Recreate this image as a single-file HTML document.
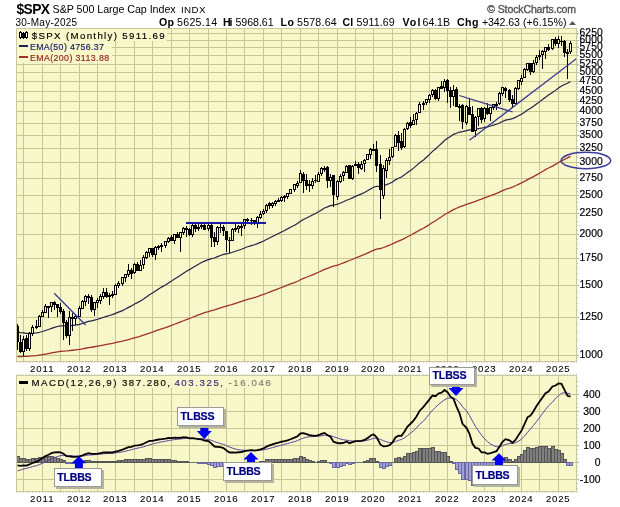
<!DOCTYPE html><html><head><meta charset="utf-8"><style>
html,body{margin:0;padding:0;background:#fff;}
body{width:620px;height:507px;overflow:hidden;position:relative;}
svg{position:absolute;left:0;top:0;}
text{font-family:"Liberation Sans",Arial,sans-serif;}
.v{font-family:"DejaVu Sans","Liberation Sans",sans-serif;}
</style></head><body>
<svg width="620" height="507" viewBox="0 0 620 507">
<text x="16.46" y="14" font-size="13.8" textLength="33.54" lengthAdjust="spacing" font-weight="bold" fill="#000">$SPX</text>
<text x="52.62" y="13" font-size="10.7" textLength="123.04" lengthAdjust="spacing" fill="#000">S&amp;P 500 Large Cap Index</text>
<text x="181.00" y="13" font-size="9.8" textLength="24.46" lengthAdjust="spacing" fill="#000">INDX</text>
<text x="487.26" y="13" font-size="10.5" textLength="88.82" lengthAdjust="spacing" font-family='"DejaVu Sans",sans-serif' fill="#555555" stroke="#555555" stroke-width="0.35">&#169; StockCharts.com</text>
<text x="15.46" y="26" font-size="10.0" textLength="61.66" lengthAdjust="spacing" fill="#000">30-May-2025</text>
<text x="159.08" y="26" font-size="10.6" textLength="14.96" lengthAdjust="spacing" font-weight="bold" fill="#000">Op</text>
<text x="177.08" y="26" font-size="10.6" textLength="39.96" lengthAdjust="spacing" fill="#000">5625.14</text>
<text x="222.92" y="26" font-size="10.6" textLength="9.62" lengthAdjust="spacing" font-weight="bold" fill="#000">Hi</text>
<text x="235.46" y="26" font-size="10.6" textLength="38.08" lengthAdjust="spacing" fill="#000">5968.61</text>
<text x="280.50" y="26" font-size="10.6" textLength="13.58" lengthAdjust="spacing" font-weight="bold" fill="#000">Lo</text>
<text x="297.04" y="26" font-size="10.6" textLength="39.62" lengthAdjust="spacing" fill="#000">5578.64</text>
<text x="342.54" y="26" font-size="10.6" textLength="10.54" lengthAdjust="spacing" font-weight="bold" fill="#000">Cl</text>
<text x="356.46" y="26" font-size="10.6" textLength="38.20" lengthAdjust="spacing" fill="#000">5911.69</text>
<text x="402.42" y="26" font-size="10.6" textLength="17.96" lengthAdjust="spacing" font-weight="bold" fill="#000">Vol</text>
<text x="422.54" y="26" font-size="10.6" textLength="27.50" lengthAdjust="spacing" fill="#000">64.1B</text>
<text x="456.96" y="26" font-size="10.6" textLength="21.58" lengthAdjust="spacing" font-weight="bold" fill="#000">Chg</text>
<text x="481.92" y="26" font-size="10.6" textLength="38.08" lengthAdjust="spacing" fill="#000">+342.63</text>
<text x="523.04" y="26" font-size="10.6" textLength="43.46" lengthAdjust="spacing" fill="#000">(+6.15%)</text>
<polygon points="569,25 572.5,21 576,25" fill="#4a5e4a"/>
<rect x="16" y="28" width="561" height="334" fill="#f8f7c9"/>
<rect x="16" y="375" width="561" height="117" fill="#f8f7c9"/>
<path d="M23.5 29V361M23.5 376V491M42.5 29V361M42.5 376V491M60.5 29V361M60.5 376V491M79.5 29V361M79.5 376V491M97.5 29V361M97.5 376V491M115.5 29V361M115.5 376V491M134.5 29V361M134.5 376V491M152.5 29V361M152.5 376V491M171.5 29V361M171.5 376V491M189.5 29V361M189.5 376V491M208.5 29V361M208.5 376V491M226.5 29V361M226.5 376V491M244.5 29V361M244.5 376V491M263.5 29V361M263.5 376V491M281.5 29V361M281.5 376V491M300.5 29V361M300.5 376V491M318.5 29V361M318.5 376V491M337.5 29V361M337.5 376V491M355.5 29V361M355.5 376V491M373.5 29V361M373.5 376V491M392.5 29V361M392.5 376V491M410.5 29V361M410.5 376V491M429.5 29V361M429.5 376V491M447.5 29V361M447.5 376V491M466.5 29V361M466.5 376V491M484.5 29V361M484.5 376V491M502.5 29V361M502.5 376V491M521.5 29V361M521.5 376V491M539.5 29V361M539.5 376V491M558.5 29V361M558.5 376V491M17 355.5H576M17 317.5H576M17 285.5H576M17 258.5H576M17 234.5H576M17 213.5H576M17 195.5H576M17 178.5H576M17 162.5H576M17 148.5H576M17 135.5H576M17 123.5H576M17 111.5H576M17 101.5H576M17 91.5H576M17 81.5H576M17 72.5H576M17 64.5H576M17 55.5H576M17 47.5H576M17 40.5H576M17 33.5H576M17 394.5H576M17 411.5H576M17 428.5H576M17 445.5H576M17 462.5H576M17 479.5H576" stroke="#c6c594" stroke-width="1" fill="none" shape-rendering="crispEdges"/>
<rect x="16.5" y="28.5" width="560" height="333" fill="none" stroke="#c9c8a0" shape-rendering="crispEdges"/>
<rect x="16.5" y="375.5" width="560" height="116" fill="none" stroke="#c9c8a0" shape-rendering="crispEdges"/>
<rect x="17" y="29" width="150" height="12" fill="#f8f7c9"/>
<rect x="17" y="41" width="95" height="22" fill="#f8f7c9"/>
<rect x="17" y="376" width="256" height="12" fill="#f8f7c9"/>
<path d="M17 362h1v1h-1zM17 374h1v1h-1zM17 492h1v1h-1zM20 362h1v1h-1zM20 374h1v1h-1zM20 492h1v1h-1zM23 362h1v1h-1zM23 374h1v1h-1zM23 492h1v1h-1zM26 362h1v1h-1zM26 374h1v1h-1zM26 492h1v1h-1zM29 362h1v1h-1zM29 374h1v1h-1zM29 492h1v1h-1zM32 362h1v1h-1zM32 374h1v1h-1zM32 492h1v1h-1zM36 362h1v1h-1zM36 374h1v1h-1zM36 492h1v1h-1zM39 362h1v1h-1zM39 374h1v1h-1zM39 492h1v1h-1zM42 362h1v1h-1zM42 374h1v1h-1zM42 492h1v1h-1zM45 362h1v1h-1zM45 374h1v1h-1zM45 492h1v1h-1zM48 362h1v1h-1zM48 374h1v1h-1zM48 492h1v1h-1zM51 362h1v1h-1zM51 374h1v1h-1zM51 492h1v1h-1zM54 362h1v1h-1zM54 374h1v1h-1zM54 492h1v1h-1zM57 362h1v1h-1zM57 374h1v1h-1zM57 492h1v1h-1zM60 362h1v1h-1zM60 374h1v1h-1zM60 492h1v1h-1zM63 362h1v1h-1zM63 374h1v1h-1zM63 492h1v1h-1zM66 362h1v1h-1zM66 374h1v1h-1zM66 492h1v1h-1zM69 362h1v1h-1zM69 374h1v1h-1zM69 492h1v1h-1zM72 362h1v1h-1zM72 374h1v1h-1zM72 492h1v1h-1zM75 362h1v1h-1zM75 374h1v1h-1zM75 492h1v1h-1zM79 362h1v1h-1zM79 374h1v1h-1zM79 492h1v1h-1zM82 362h1v1h-1zM82 374h1v1h-1zM82 492h1v1h-1zM85 362h1v1h-1zM85 374h1v1h-1zM85 492h1v1h-1zM88 362h1v1h-1zM88 374h1v1h-1zM88 492h1v1h-1zM91 362h1v1h-1zM91 374h1v1h-1zM91 492h1v1h-1zM94 362h1v1h-1zM94 374h1v1h-1zM94 492h1v1h-1zM97 362h1v1h-1zM97 374h1v1h-1zM97 492h1v1h-1zM100 362h1v1h-1zM100 374h1v1h-1zM100 492h1v1h-1zM103 362h1v1h-1zM103 374h1v1h-1zM103 492h1v1h-1zM106 362h1v1h-1zM106 374h1v1h-1zM106 492h1v1h-1zM109 362h1v1h-1zM109 374h1v1h-1zM109 492h1v1h-1zM112 362h1v1h-1zM112 374h1v1h-1zM112 492h1v1h-1zM115 362h1v1h-1zM115 374h1v1h-1zM115 492h1v1h-1zM118 362h1v1h-1zM118 374h1v1h-1zM118 492h1v1h-1zM122 362h1v1h-1zM122 374h1v1h-1zM122 492h1v1h-1zM125 362h1v1h-1zM125 374h1v1h-1zM125 492h1v1h-1zM128 362h1v1h-1zM128 374h1v1h-1zM128 492h1v1h-1zM131 362h1v1h-1zM131 374h1v1h-1zM131 492h1v1h-1zM134 362h1v1h-1zM134 374h1v1h-1zM134 492h1v1h-1zM137 362h1v1h-1zM137 374h1v1h-1zM137 492h1v1h-1zM140 362h1v1h-1zM140 374h1v1h-1zM140 492h1v1h-1zM143 362h1v1h-1zM143 374h1v1h-1zM143 492h1v1h-1zM146 362h1v1h-1zM146 374h1v1h-1zM146 492h1v1h-1zM149 362h1v1h-1zM149 374h1v1h-1zM149 492h1v1h-1zM152 362h1v1h-1zM152 374h1v1h-1zM152 492h1v1h-1zM155 362h1v1h-1zM155 374h1v1h-1zM155 492h1v1h-1zM158 362h1v1h-1zM158 374h1v1h-1zM158 492h1v1h-1zM161 362h1v1h-1zM161 374h1v1h-1zM161 492h1v1h-1zM165 362h1v1h-1zM165 374h1v1h-1zM165 492h1v1h-1zM168 362h1v1h-1zM168 374h1v1h-1zM168 492h1v1h-1zM171 362h1v1h-1zM171 374h1v1h-1zM171 492h1v1h-1zM174 362h1v1h-1zM174 374h1v1h-1zM174 492h1v1h-1zM177 362h1v1h-1zM177 374h1v1h-1zM177 492h1v1h-1zM180 362h1v1h-1zM180 374h1v1h-1zM180 492h1v1h-1zM183 362h1v1h-1zM183 374h1v1h-1zM183 492h1v1h-1zM186 362h1v1h-1zM186 374h1v1h-1zM186 492h1v1h-1zM189 362h1v1h-1zM189 374h1v1h-1zM189 492h1v1h-1zM192 362h1v1h-1zM192 374h1v1h-1zM192 492h1v1h-1zM195 362h1v1h-1zM195 374h1v1h-1zM195 492h1v1h-1zM198 362h1v1h-1zM198 374h1v1h-1zM198 492h1v1h-1zM201 362h1v1h-1zM201 374h1v1h-1zM201 492h1v1h-1zM204 362h1v1h-1zM204 374h1v1h-1zM204 492h1v1h-1zM208 362h1v1h-1zM208 374h1v1h-1zM208 492h1v1h-1zM211 362h1v1h-1zM211 374h1v1h-1zM211 492h1v1h-1zM214 362h1v1h-1zM214 374h1v1h-1zM214 492h1v1h-1zM217 362h1v1h-1zM217 374h1v1h-1zM217 492h1v1h-1zM220 362h1v1h-1zM220 374h1v1h-1zM220 492h1v1h-1zM223 362h1v1h-1zM223 374h1v1h-1zM223 492h1v1h-1zM226 362h1v1h-1zM226 374h1v1h-1zM226 492h1v1h-1zM229 362h1v1h-1zM229 374h1v1h-1zM229 492h1v1h-1zM232 362h1v1h-1zM232 374h1v1h-1zM232 492h1v1h-1zM235 362h1v1h-1zM235 374h1v1h-1zM235 492h1v1h-1zM238 362h1v1h-1zM238 374h1v1h-1zM238 492h1v1h-1zM241 362h1v1h-1zM241 374h1v1h-1zM241 492h1v1h-1zM244 362h1v1h-1zM244 374h1v1h-1zM244 492h1v1h-1zM247 362h1v1h-1zM247 374h1v1h-1zM247 492h1v1h-1zM251 362h1v1h-1zM251 374h1v1h-1zM251 492h1v1h-1zM254 362h1v1h-1zM254 374h1v1h-1zM254 492h1v1h-1zM257 362h1v1h-1zM257 374h1v1h-1zM257 492h1v1h-1zM260 362h1v1h-1zM260 374h1v1h-1zM260 492h1v1h-1zM263 362h1v1h-1zM263 374h1v1h-1zM263 492h1v1h-1zM266 362h1v1h-1zM266 374h1v1h-1zM266 492h1v1h-1zM269 362h1v1h-1zM269 374h1v1h-1zM269 492h1v1h-1zM272 362h1v1h-1zM272 374h1v1h-1zM272 492h1v1h-1zM275 362h1v1h-1zM275 374h1v1h-1zM275 492h1v1h-1zM278 362h1v1h-1zM278 374h1v1h-1zM278 492h1v1h-1zM281 362h1v1h-1zM281 374h1v1h-1zM281 492h1v1h-1zM284 362h1v1h-1zM284 374h1v1h-1zM284 492h1v1h-1zM287 362h1v1h-1zM287 374h1v1h-1zM287 492h1v1h-1zM290 362h1v1h-1zM290 374h1v1h-1zM290 492h1v1h-1zM294 362h1v1h-1zM294 374h1v1h-1zM294 492h1v1h-1zM297 362h1v1h-1zM297 374h1v1h-1zM297 492h1v1h-1zM300 362h1v1h-1zM300 374h1v1h-1zM300 492h1v1h-1zM303 362h1v1h-1zM303 374h1v1h-1zM303 492h1v1h-1zM306 362h1v1h-1zM306 374h1v1h-1zM306 492h1v1h-1zM309 362h1v1h-1zM309 374h1v1h-1zM309 492h1v1h-1zM312 362h1v1h-1zM312 374h1v1h-1zM312 492h1v1h-1zM315 362h1v1h-1zM315 374h1v1h-1zM315 492h1v1h-1zM318 362h1v1h-1zM318 374h1v1h-1zM318 492h1v1h-1zM321 362h1v1h-1zM321 374h1v1h-1zM321 492h1v1h-1zM324 362h1v1h-1zM324 374h1v1h-1zM324 492h1v1h-1zM327 362h1v1h-1zM327 374h1v1h-1zM327 492h1v1h-1zM330 362h1v1h-1zM330 374h1v1h-1zM330 492h1v1h-1zM333 362h1v1h-1zM333 374h1v1h-1zM333 492h1v1h-1zM337 362h1v1h-1zM337 374h1v1h-1zM337 492h1v1h-1zM340 362h1v1h-1zM340 374h1v1h-1zM340 492h1v1h-1zM343 362h1v1h-1zM343 374h1v1h-1zM343 492h1v1h-1zM346 362h1v1h-1zM346 374h1v1h-1zM346 492h1v1h-1zM349 362h1v1h-1zM349 374h1v1h-1zM349 492h1v1h-1zM352 362h1v1h-1zM352 374h1v1h-1zM352 492h1v1h-1zM355 362h1v1h-1zM355 374h1v1h-1zM355 492h1v1h-1zM358 362h1v1h-1zM358 374h1v1h-1zM358 492h1v1h-1zM361 362h1v1h-1zM361 374h1v1h-1zM361 492h1v1h-1zM364 362h1v1h-1zM364 374h1v1h-1zM364 492h1v1h-1zM367 362h1v1h-1zM367 374h1v1h-1zM367 492h1v1h-1zM370 362h1v1h-1zM370 374h1v1h-1zM370 492h1v1h-1zM373 362h1v1h-1zM373 374h1v1h-1zM373 492h1v1h-1zM376 362h1v1h-1zM376 374h1v1h-1zM376 492h1v1h-1zM380 362h1v1h-1zM380 374h1v1h-1zM380 492h1v1h-1zM383 362h1v1h-1zM383 374h1v1h-1zM383 492h1v1h-1zM386 362h1v1h-1zM386 374h1v1h-1zM386 492h1v1h-1zM389 362h1v1h-1zM389 374h1v1h-1zM389 492h1v1h-1zM392 362h1v1h-1zM392 374h1v1h-1zM392 492h1v1h-1zM395 362h1v1h-1zM395 374h1v1h-1zM395 492h1v1h-1zM398 362h1v1h-1zM398 374h1v1h-1zM398 492h1v1h-1zM401 362h1v1h-1zM401 374h1v1h-1zM401 492h1v1h-1zM404 362h1v1h-1zM404 374h1v1h-1zM404 492h1v1h-1zM407 362h1v1h-1zM407 374h1v1h-1zM407 492h1v1h-1zM410 362h1v1h-1zM410 374h1v1h-1zM410 492h1v1h-1zM413 362h1v1h-1zM413 374h1v1h-1zM413 492h1v1h-1zM416 362h1v1h-1zM416 374h1v1h-1zM416 492h1v1h-1zM419 362h1v1h-1zM419 374h1v1h-1zM419 492h1v1h-1zM423 362h1v1h-1zM423 374h1v1h-1zM423 492h1v1h-1zM426 362h1v1h-1zM426 374h1v1h-1zM426 492h1v1h-1zM429 362h1v1h-1zM429 374h1v1h-1zM429 492h1v1h-1zM432 362h1v1h-1zM432 374h1v1h-1zM432 492h1v1h-1zM435 362h1v1h-1zM435 374h1v1h-1zM435 492h1v1h-1zM438 362h1v1h-1zM438 374h1v1h-1zM438 492h1v1h-1zM441 362h1v1h-1zM441 374h1v1h-1zM441 492h1v1h-1zM444 362h1v1h-1zM444 374h1v1h-1zM444 492h1v1h-1zM447 362h1v1h-1zM447 374h1v1h-1zM447 492h1v1h-1zM450 362h1v1h-1zM450 374h1v1h-1zM450 492h1v1h-1zM453 362h1v1h-1zM453 374h1v1h-1zM453 492h1v1h-1zM456 362h1v1h-1zM456 374h1v1h-1zM456 492h1v1h-1zM459 362h1v1h-1zM459 374h1v1h-1zM459 492h1v1h-1zM462 362h1v1h-1zM462 374h1v1h-1zM462 492h1v1h-1zM466 362h1v1h-1zM466 374h1v1h-1zM466 492h1v1h-1zM469 362h1v1h-1zM469 374h1v1h-1zM469 492h1v1h-1zM472 362h1v1h-1zM472 374h1v1h-1zM472 492h1v1h-1zM475 362h1v1h-1zM475 374h1v1h-1zM475 492h1v1h-1zM478 362h1v1h-1zM478 374h1v1h-1zM478 492h1v1h-1zM481 362h1v1h-1zM481 374h1v1h-1zM481 492h1v1h-1zM484 362h1v1h-1zM484 374h1v1h-1zM484 492h1v1h-1zM487 362h1v1h-1zM487 374h1v1h-1zM487 492h1v1h-1zM490 362h1v1h-1zM490 374h1v1h-1zM490 492h1v1h-1zM493 362h1v1h-1zM493 374h1v1h-1zM493 492h1v1h-1zM496 362h1v1h-1zM496 374h1v1h-1zM496 492h1v1h-1zM499 362h1v1h-1zM499 374h1v1h-1zM499 492h1v1h-1zM502 362h1v1h-1zM502 374h1v1h-1zM502 492h1v1h-1zM505 362h1v1h-1zM505 374h1v1h-1zM505 492h1v1h-1zM509 362h1v1h-1zM509 374h1v1h-1zM509 492h1v1h-1zM512 362h1v1h-1zM512 374h1v1h-1zM512 492h1v1h-1zM515 362h1v1h-1zM515 374h1v1h-1zM515 492h1v1h-1zM518 362h1v1h-1zM518 374h1v1h-1zM518 492h1v1h-1zM521 362h1v1h-1zM521 374h1v1h-1zM521 492h1v1h-1zM524 362h1v1h-1zM524 374h1v1h-1zM524 492h1v1h-1zM527 362h1v1h-1zM527 374h1v1h-1zM527 492h1v1h-1zM530 362h1v1h-1zM530 374h1v1h-1zM530 492h1v1h-1zM533 362h1v1h-1zM533 374h1v1h-1zM533 492h1v1h-1zM536 362h1v1h-1zM536 374h1v1h-1zM536 492h1v1h-1zM539 362h1v1h-1zM539 374h1v1h-1zM539 492h1v1h-1zM542 362h1v1h-1zM542 374h1v1h-1zM542 492h1v1h-1zM545 362h1v1h-1zM545 374h1v1h-1zM545 492h1v1h-1zM548 362h1v1h-1zM548 374h1v1h-1zM548 492h1v1h-1zM552 362h1v1h-1zM552 374h1v1h-1zM552 492h1v1h-1zM555 362h1v1h-1zM555 374h1v1h-1zM555 492h1v1h-1zM558 362h1v1h-1zM558 374h1v1h-1zM558 492h1v1h-1zM561 362h1v1h-1zM561 374h1v1h-1zM561 492h1v1h-1zM564 362h1v1h-1zM564 374h1v1h-1zM564 492h1v1h-1zM567 362h1v1h-1zM567 374h1v1h-1zM567 492h1v1h-1zM570 362h1v1h-1zM570 374h1v1h-1zM570 492h1v1h-1zM573 362h1v1h-1zM573 374h1v1h-1zM573 492h1v1h-1zM576 362h1v1h-1zM576 374h1v1h-1zM576 492h1v1h-1z" fill="#d2d2b4" shape-rendering="crispEdges"/>
<path d="M577 357h1v1h-1zM577 348h1v1h-1zM577 340h1v1h-1zM577 332h1v1h-1zM577 324h1v1h-1zM577 317h1v1h-1zM577 310h1v1h-1zM577 303h1v1h-1zM577 297h1v1h-1zM577 291h1v1h-1zM577 285h1v1h-1zM577 279h1v1h-1zM577 273h1v1h-1zM577 268h1v1h-1zM577 263h1v1h-1zM577 258h1v1h-1zM577 253h1v1h-1zM577 248h1v1h-1zM577 243h1v1h-1zM577 239h1v1h-1zM577 234h1v1h-1zM577 230h1v1h-1zM577 225h1v1h-1zM577 221h1v1h-1zM577 217h1v1h-1zM577 213h1v1h-1zM577 209h1v1h-1zM577 206h1v1h-1zM577 202h1v1h-1zM577 198h1v1h-1zM577 195h1v1h-1zM577 191h1v1h-1zM577 188h1v1h-1zM577 184h1v1h-1zM577 181h1v1h-1zM577 178h1v1h-1zM577 175h1v1h-1zM577 171h1v1h-1zM577 168h1v1h-1zM577 165h1v1h-1zM577 162h1v1h-1zM577 157h1v1h-1zM577 151h1v1h-1zM577 146h1v1h-1zM577 140h1v1h-1zM577 135h1v1h-1zM577 130h1v1h-1zM577 125h1v1h-1zM577 121h1v1h-1zM577 116h1v1h-1zM577 112h1v1h-1zM577 107h1v1h-1zM577 103h1v1h-1zM577 99h1v1h-1zM577 95h1v1h-1zM577 91h1v1h-1zM577 87h1v1h-1zM577 83h1v1h-1zM577 79h1v1h-1zM577 76h1v1h-1zM577 72h1v1h-1zM577 69h1v1h-1zM577 65h1v1h-1zM577 62h1v1h-1zM577 59h1v1h-1zM577 55h1v1h-1zM577 52h1v1h-1zM577 49h1v1h-1zM577 46h1v1h-1zM577 43h1v1h-1zM577 40h1v1h-1zM577 37h1v1h-1zM577 34h1v1h-1zM577 31h1v1h-1zM577 488h1v1h-1zM577 483h1v1h-1zM577 479h1v1h-1zM577 475h1v1h-1zM577 471h1v1h-1zM577 466h1v1h-1zM577 462h1v1h-1zM577 458h1v1h-1zM577 454h1v1h-1zM577 449h1v1h-1zM577 445h1v1h-1zM577 441h1v1h-1zM577 437h1v1h-1zM577 432h1v1h-1zM577 428h1v1h-1zM577 424h1v1h-1zM577 420h1v1h-1zM577 415h1v1h-1zM577 411h1v1h-1zM577 407h1v1h-1zM577 403h1v1h-1zM577 398h1v1h-1zM577 394h1v1h-1zM577 390h1v1h-1zM577 386h1v1h-1zM577 381h1v1h-1z" fill="#c8c8b0" shape-rendering="crispEdges"/>
<path d="M577 355.5h2M577 317.5h2M577 285.5h2M577 258.5h2M577 234.5h2M577 213.5h2M577 195.5h2M577 178.5h2M577 162.5h2M577 148.5h2M577 135.5h2M577 123.5h2M577 111.5h2M577 101.5h2M577 91.5h2M577 81.5h2M577 72.5h2M577 64.5h2M577 55.5h2M577 47.5h2M577 40.5h2M577 33.5h2M577 394.5h2M577 411.5h2M577 428.5h2M577 445.5h2M577 462.5h2M577 479.5h2" stroke="#b0b0a0" shape-rendering="crispEdges"/>
<text x="579.50" y="358" font-size="10.3" textLength="23.20" lengthAdjust="spacing" fill="#000" stroke="#000" stroke-width="0.2">1000</text>
<text x="579.50" y="320" font-size="10.3" textLength="23.20" lengthAdjust="spacing" fill="#000" stroke="#000" stroke-width="0.2">1250</text>
<text x="579.50" y="288" font-size="10.3" textLength="23.20" lengthAdjust="spacing" fill="#000" stroke="#000" stroke-width="0.2">1500</text>
<text x="579.50" y="261" font-size="10.3" textLength="23.20" lengthAdjust="spacing" fill="#000" stroke="#000" stroke-width="0.2">1750</text>
<text x="579.50" y="237" font-size="10.3" textLength="23.20" lengthAdjust="spacing" fill="#000" stroke="#000" stroke-width="0.2">2000</text>
<text x="579.50" y="216" font-size="10.3" textLength="23.20" lengthAdjust="spacing" fill="#000" stroke="#000" stroke-width="0.2">2250</text>
<text x="579.50" y="198" font-size="10.3" textLength="23.20" lengthAdjust="spacing" fill="#000" stroke="#000" stroke-width="0.2">2500</text>
<text x="579.50" y="181" font-size="10.3" textLength="23.20" lengthAdjust="spacing" fill="#000" stroke="#000" stroke-width="0.2">2750</text>
<text x="579.50" y="165" font-size="10.3" textLength="23.20" lengthAdjust="spacing" fill="#000" stroke="#000" stroke-width="0.2">3000</text>
<text x="579.50" y="151" font-size="10.3" textLength="23.20" lengthAdjust="spacing" fill="#000" stroke="#000" stroke-width="0.2">3250</text>
<text x="579.50" y="138" font-size="10.3" textLength="23.20" lengthAdjust="spacing" fill="#000" stroke="#000" stroke-width="0.2">3500</text>
<text x="579.50" y="126" font-size="10.3" textLength="23.20" lengthAdjust="spacing" fill="#000" stroke="#000" stroke-width="0.2">3750</text>
<text x="579.50" y="114" font-size="10.3" textLength="23.20" lengthAdjust="spacing" fill="#000" stroke="#000" stroke-width="0.2">4000</text>
<text x="579.50" y="104" font-size="10.3" textLength="23.20" lengthAdjust="spacing" fill="#000" stroke="#000" stroke-width="0.2">4250</text>
<text x="579.50" y="94" font-size="10.3" textLength="23.20" lengthAdjust="spacing" fill="#000" stroke="#000" stroke-width="0.2">4500</text>
<text x="579.50" y="84" font-size="10.3" textLength="23.20" lengthAdjust="spacing" fill="#000" stroke="#000" stroke-width="0.2">4750</text>
<text x="579.50" y="75" font-size="10.3" textLength="23.20" lengthAdjust="spacing" fill="#000" stroke="#000" stroke-width="0.2">5000</text>
<text x="579.50" y="67" font-size="10.3" textLength="23.20" lengthAdjust="spacing" fill="#000" stroke="#000" stroke-width="0.2">5250</text>
<text x="579.50" y="58" font-size="10.3" textLength="23.20" lengthAdjust="spacing" fill="#000" stroke="#000" stroke-width="0.2">5500</text>
<text x="579.50" y="50" font-size="10.3" textLength="23.20" lengthAdjust="spacing" fill="#000" stroke="#000" stroke-width="0.2">5750</text>
<text x="579.50" y="43" font-size="10.3" textLength="23.20" lengthAdjust="spacing" fill="#000" stroke="#000" stroke-width="0.2">6000</text>
<text x="579.50" y="36" font-size="10.3" textLength="23.20" lengthAdjust="spacing" fill="#000" stroke="#000" stroke-width="0.2">6250</text>
<text x="600.57" y="397.5" font-size="10.3" letter-spacing="0.07" fill="#000" stroke="#000" stroke-width="0.2" text-anchor="end">400</text>
<text x="600.57" y="414.5" font-size="10.3" letter-spacing="0.07" fill="#000" stroke="#000" stroke-width="0.2" text-anchor="end">300</text>
<text x="600.57" y="431.5" font-size="10.3" letter-spacing="0.07" fill="#000" stroke="#000" stroke-width="0.2" text-anchor="end">200</text>
<text x="600.57" y="448.5" font-size="10.3" letter-spacing="0.07" fill="#000" stroke="#000" stroke-width="0.2" text-anchor="end">100</text>
<text x="600.57" y="465.5" font-size="10.3" letter-spacing="0.07" fill="#000" stroke="#000" stroke-width="0.2" text-anchor="end">0</text>
<text x="600.57" y="482.5" font-size="10.3" letter-spacing="0.07" fill="#000" stroke="#000" stroke-width="0.2" text-anchor="end">-100</text>
<text x="30.10" y="372" font-size="9.6" textLength="23.40" lengthAdjust="spacing" fill="#000" stroke="#000" stroke-width="0.08">2011</text>
<text x="67.10" y="372" font-size="9.6" textLength="23.40" lengthAdjust="spacing" fill="#000" stroke="#000" stroke-width="0.08">2012</text>
<text x="103.10" y="372" font-size="9.6" textLength="23.40" lengthAdjust="spacing" fill="#000" stroke="#000" stroke-width="0.08">2013</text>
<text x="140.10" y="372" font-size="9.6" textLength="23.40" lengthAdjust="spacing" fill="#000" stroke="#000" stroke-width="0.08">2014</text>
<text x="177.10" y="372" font-size="9.6" textLength="23.40" lengthAdjust="spacing" fill="#000" stroke="#000" stroke-width="0.08">2015</text>
<text x="214.10" y="372" font-size="9.6" textLength="23.40" lengthAdjust="spacing" fill="#000" stroke="#000" stroke-width="0.08">2016</text>
<text x="251.10" y="372" font-size="9.6" textLength="23.40" lengthAdjust="spacing" fill="#000" stroke="#000" stroke-width="0.08">2017</text>
<text x="288.10" y="372" font-size="9.6" textLength="23.40" lengthAdjust="spacing" fill="#000" stroke="#000" stroke-width="0.08">2018</text>
<text x="325.10" y="372" font-size="9.6" textLength="23.40" lengthAdjust="spacing" fill="#000" stroke="#000" stroke-width="0.08">2019</text>
<text x="361.10" y="372" font-size="9.6" textLength="23.40" lengthAdjust="spacing" fill="#000" stroke="#000" stroke-width="0.08">2020</text>
<text x="398.10" y="372" font-size="9.6" textLength="23.40" lengthAdjust="spacing" fill="#000" stroke="#000" stroke-width="0.08">2021</text>
<text x="435.10" y="372" font-size="9.6" textLength="23.40" lengthAdjust="spacing" fill="#000" stroke="#000" stroke-width="0.08">2022</text>
<text x="472.10" y="372" font-size="9.6" textLength="23.40" lengthAdjust="spacing" fill="#000" stroke="#000" stroke-width="0.08">2023</text>
<text x="509.10" y="372" font-size="9.6" textLength="23.40" lengthAdjust="spacing" fill="#000" stroke="#000" stroke-width="0.08">2024</text>
<text x="546.10" y="372" font-size="9.6" textLength="23.40" lengthAdjust="spacing" fill="#000" stroke="#000" stroke-width="0.08">2025</text>
<text x="30.10" y="502" font-size="9.6" textLength="23.40" lengthAdjust="spacing" fill="#000" stroke="#000" stroke-width="0.08">2011</text>
<text x="67.10" y="502" font-size="9.6" textLength="23.40" lengthAdjust="spacing" fill="#000" stroke="#000" stroke-width="0.08">2012</text>
<text x="103.10" y="502" font-size="9.6" textLength="23.40" lengthAdjust="spacing" fill="#000" stroke="#000" stroke-width="0.08">2013</text>
<text x="140.10" y="502" font-size="9.6" textLength="23.40" lengthAdjust="spacing" fill="#000" stroke="#000" stroke-width="0.08">2014</text>
<text x="177.10" y="502" font-size="9.6" textLength="23.40" lengthAdjust="spacing" fill="#000" stroke="#000" stroke-width="0.08">2015</text>
<text x="214.10" y="502" font-size="9.6" textLength="23.40" lengthAdjust="spacing" fill="#000" stroke="#000" stroke-width="0.08">2016</text>
<text x="251.10" y="502" font-size="9.6" textLength="23.40" lengthAdjust="spacing" fill="#000" stroke="#000" stroke-width="0.08">2017</text>
<text x="288.10" y="502" font-size="9.6" textLength="23.40" lengthAdjust="spacing" fill="#000" stroke="#000" stroke-width="0.08">2018</text>
<text x="325.10" y="502" font-size="9.6" textLength="23.40" lengthAdjust="spacing" fill="#000" stroke="#000" stroke-width="0.08">2019</text>
<text x="361.10" y="502" font-size="9.6" textLength="23.40" lengthAdjust="spacing" fill="#000" stroke="#000" stroke-width="0.08">2020</text>
<text x="398.10" y="502" font-size="9.6" textLength="23.40" lengthAdjust="spacing" fill="#000" stroke="#000" stroke-width="0.08">2021</text>
<text x="435.10" y="502" font-size="9.6" textLength="23.40" lengthAdjust="spacing" fill="#000" stroke="#000" stroke-width="0.08">2022</text>
<text x="472.10" y="502" font-size="9.6" textLength="23.40" lengthAdjust="spacing" fill="#000" stroke="#000" stroke-width="0.08">2023</text>
<text x="509.10" y="502" font-size="9.6" textLength="23.40" lengthAdjust="spacing" fill="#000" stroke="#000" stroke-width="0.08">2024</text>
<text x="546.10" y="502" font-size="9.6" textLength="23.40" lengthAdjust="spacing" fill="#000" stroke="#000" stroke-width="0.08">2025</text>
<clipPath id="cm"><rect x="17" y="29" width="559" height="332"/></clipPath>
<clipPath id="cd"><rect x="17" y="376" width="559" height="115"/></clipPath>
<g clip-path="url(#cm)">
<polyline points="17.5,356.69 20.5,356.64 23.5,356.47 26.5,356.39 29.5,356.15 32.5,355.83 36.5,355.53 39.5,355.10 42.5,354.62 45.5,354.08 48.5,353.54 51.5,352.95 54.5,352.40 57.5,351.90 60.5,351.45 63.5,351.13 66.5,350.96 69.5,350.59 72.5,350.24 75.5,349.87 79.5,349.41 82.5,348.87 85.5,348.26 88.5,347.68 91.5,347.26 94.5,346.75 97.5,346.22 100.5,345.65 103.5,345.04 106.5,344.48 109.5,343.92 112.5,343.35 115.5,342.67 118.5,341.97 122.5,341.20 125.5,340.39 128.5,339.54 131.5,338.74 134.5,337.83 137.5,337.02 140.5,336.14 143.5,335.15 146.5,334.11 149.5,333.02 152.5,332.04 155.5,330.96 158.5,329.88 161.5,328.81 165.5,327.68 168.5,326.53 171.5,325.43 174.5,324.25 177.5,323.13 180.5,321.96 183.5,320.74 186.5,319.56 189.5,318.48 192.5,317.27 195.5,316.13 198.5,314.98 201.5,313.82 204.5,312.74 208.5,311.63 211.5,310.70 214.5,309.87 217.5,308.83 220.5,307.81 223.5,306.85 226.5,306.04 229.5,305.25 232.5,304.31 235.5,303.38 238.5,302.42 241.5,301.47 244.5,300.44 247.5,299.43 251.5,298.44 254.5,297.51 257.5,296.52 260.5,295.48 263.5,294.41 266.5,293.26 269.5,292.13 272.5,290.98 275.5,289.83 278.5,288.68 281.5,287.49 284.5,286.32 287.5,285.11 290.5,283.86 294.5,282.55 297.5,281.23 300.5,279.76 303.5,278.44 306.5,277.23 309.5,276.02 312.5,274.78 315.5,273.54 318.5,272.22 321.5,270.82 324.5,269.44 327.5,268.30 330.5,267.12 333.5,266.23 337.5,265.15 340.5,264.00 343.5,262.82 346.5,261.54 349.5,260.49 352.5,259.25 355.5,258.00 358.5,256.83 361.5,255.62 364.5,254.38 367.5,253.05 370.5,251.66 373.5,250.30 376.5,249.22 380.5,248.51 383.5,247.50 386.5,246.38 389.5,245.23 392.5,243.94 395.5,242.46 398.5,241.13 401.5,239.91 404.5,238.39 407.5,236.78 410.5,235.24 413.5,233.64 416.5,231.93 419.5,230.08 423.5,228.24 426.5,226.37 429.5,224.45 432.5,222.46 435.5,220.69 438.5,218.72 441.5,216.81 444.5,214.79 447.5,213.01 450.5,211.37 453.5,209.65 456.5,208.25 459.5,206.89 462.5,205.80 466.5,204.48 469.5,203.31 472.5,202.43 475.5,201.35 478.5,200.14 481.5,199.12 484.5,197.95 487.5,196.88 490.5,195.72 493.5,194.54 496.5,193.37 499.5,192.04 502.5,190.63 505.5,189.30 509.5,188.15 512.5,187.07 515.5,185.76 518.5,184.35 521.5,182.90 524.5,181.33 527.5,179.67 530.5,178.19 533.5,176.59 536.5,174.89 539.5,173.20 542.5,171.45 545.5,169.68 548.5,167.97 552.5,166.10 555.5,164.35 558.5,162.55 561.5,160.84 564.5,159.35 567.5,157.91 570.5,156.31" fill="none" stroke="#a0302a" stroke-width="1.3"/>
<polyline points="17.5,331.80 20.5,332.54 23.5,332.83 26.5,333.42 29.5,333.43 32.5,333.18 36.5,332.96 39.5,332.29 42.5,331.47 45.5,330.45 48.5,329.47 51.5,328.32 54.5,327.33 57.5,326.52 60.5,325.92 63.5,325.77 66.5,326.13 69.5,325.77 72.5,325.45 75.5,325.10 79.5,324.44 82.5,323.50 85.5,322.36 88.5,321.33 91.5,320.84 94.5,320.08 97.5,319.26 100.5,318.32 103.5,317.23 106.5,316.35 109.5,315.49 112.5,314.60 115.5,313.37 118.5,312.11 122.5,310.61 125.5,309.03 128.5,307.36 131.5,305.89 134.5,304.08 137.5,302.63 140.5,301.00 143.5,299.08 146.5,297.01 149.5,294.83 152.5,293.08 155.5,291.05 158.5,289.06 161.5,287.11 165.5,285.08 168.5,282.98 171.5,281.12 174.5,279.03 177.5,277.18 180.5,275.22 183.5,273.14 186.5,271.21 189.5,269.64 192.5,267.68 195.5,265.98 198.5,264.28 201.5,262.58 204.5,261.14 208.5,259.60 211.5,258.66 214.5,257.96 217.5,256.67 220.5,255.44 223.5,254.40 226.5,253.81 229.5,253.27 232.5,252.27 235.5,251.29 238.5,250.24 241.5,249.22 244.5,247.97 247.5,246.79 251.5,245.67 254.5,244.76 257.5,243.62 260.5,242.39 263.5,241.07 266.5,239.51 269.5,238.02 272.5,236.53 275.5,235.02 278.5,233.53 281.5,231.96 284.5,230.46 287.5,228.86 290.5,227.16 294.5,225.30 297.5,223.45 300.5,221.21 303.5,219.42 306.5,217.96 309.5,216.54 312.5,215.01 315.5,213.52 318.5,211.79 321.5,209.89 324.5,208.05 327.5,206.90 330.5,205.65 333.5,205.21 337.5,204.20 340.5,203.01 343.5,201.73 346.5,200.19 349.5,199.27 352.5,197.86 355.5,196.40 358.5,195.16 361.5,193.85 364.5,192.42 367.5,190.78 370.5,188.98 373.5,187.29 376.5,186.38 380.5,186.50 383.5,185.74 386.5,184.67 389.5,183.50 392.5,181.95 395.5,179.88 398.5,178.27 401.5,176.96 404.5,174.85 407.5,172.51 410.5,170.39 413.5,168.15 416.5,165.65 419.5,162.79 423.5,160.03 426.5,157.22 429.5,154.34 432.5,151.34 435.5,148.97 438.5,146.09 441.5,143.45 444.5,140.54 447.5,138.29 450.5,136.44 453.5,134.37 456.5,133.19 459.5,132.05 462.5,131.64 466.5,130.58 469.5,129.90 472.5,129.96 475.5,129.47 478.5,128.60 481.5,128.22 484.5,127.42 487.5,126.84 490.5,126.04 493.5,125.15 496.5,124.28 499.5,122.96 502.5,121.44 505.5,120.14 509.5,119.29 512.5,118.65 515.5,117.38 518.5,115.80 521.5,114.16 524.5,112.17 527.5,110.00 530.5,108.32 533.5,106.31 536.5,104.09 539.5,101.89 542.5,99.60 545.5,97.24 548.5,95.09 552.5,92.55 555.5,90.37 558.5,88.06 561.5,85.99 564.5,84.54 567.5,83.22 570.5,81.46" fill="none" stroke="#22224a" stroke-width="1.2"/>
<path d="M17.5 324V350M20.5 335V353M23.5 336V356M26.5 335V351M29.5 332V351M32.5 325V336M36.5 320V329M39.5 315V327M42.5 310V317M45.5 304V313M48.5 306V318M51.5 302V312M54.5 301V310M57.5 304V317M60.5 303V314M63.5 309V340M66.5 320V338M69.5 311V345M72.5 313V331M75.5 314V325M79.5 306V317M82.5 300V309M85.5 295V306M88.5 294V304M91.5 295V312M94.5 302V316M97.5 298V308M100.5 294V304M103.5 288V299M106.5 288V298M109.5 293V305M112.5 291V298M115.5 284V295M118.5 281V288M122.5 277V286M125.5 274V282M128.5 264V277M131.5 268V279M134.5 263V274M137.5 262V271M140.5 260V271M143.5 255V269M146.5 251V259M149.5 248V257M152.5 248V257M155.5 246V260M158.5 245V250M161.5 243V252M165.5 241V248M168.5 237V243M171.5 235V241M174.5 234V244M177.5 232V238M180.5 232V252M183.5 227V235M186.5 226V237M189.5 228V236M192.5 224V237M195.5 224V232M198.5 223V231M201.5 223V229M204.5 223V230M208.5 223V231M211.5 224V247M214.5 232V247M217.5 226V245M220.5 224V233M223.5 225V236M226.5 231V252M229.5 237V253M232.5 228V241M235.5 224V232M238.5 225V233M241.5 224V236M244.5 219V229M247.5 218V222M251.5 218V225M254.5 220V225M257.5 216V228M260.5 211V219M263.5 209V215M266.5 204V213M269.5 202V209M272.5 202V208M275.5 200V206M278.5 198V202M281.5 196V202M284.5 195V202M287.5 193V199M290.5 189V194M294.5 184V192M297.5 181V188M300.5 170V183M303.5 172V193M306.5 174V190M309.5 180V192M312.5 178V189M315.5 175V183M318.5 172V182M321.5 167V176M324.5 166V172M327.5 166V188M330.5 174V187M333.5 175V207M337.5 180V200M340.5 174V183M343.5 171V181M346.5 165V173M349.5 165V179M352.5 165V180M355.5 161V166M358.5 162V174M361.5 161V170M364.5 159V172M367.5 154V160M370.5 148V159M373.5 144V151M376.5 141V172M380.5 155V219M383.5 165V199M386.5 158V178M389.5 149V165M392.5 147V158M395.5 134V147M398.5 131V151M401.5 133V150M404.5 128V148M407.5 122V130M410.5 117V128M413.5 114V125M416.5 112V125M419.5 102V113M423.5 101V110M426.5 99V105M429.5 94V103M432.5 89V97M435.5 89V100M438.5 87V101M441.5 81V89M444.5 79V92M447.5 79V103M450.5 87V108M453.5 85V106M456.5 87V107M459.5 104V121M462.5 104V129M466.5 105V125M469.5 98V115M472.5 106V132M475.5 116V137M478.5 108V126M481.5 107V123M484.5 107V122M487.5 103V115M490.5 107V121M493.5 104V110M496.5 102V110M499.5 92V105M502.5 87V96M505.5 87V98M509.5 89V102M512.5 95V108M515.5 87V104M518.5 80V90M521.5 75V85M524.5 68V78M527.5 63V71M530.5 63V75M533.5 60V73M536.5 55V65M539.5 50V60M542.5 50V69M545.5 47V59M548.5 44V51M552.5 39V50M555.5 37V46M558.5 36V48M561.5 36V46M564.5 40V57M567.5 49V79M570.5 41V54" stroke="#000" stroke-width="1" shape-rendering="crispEdges"/>
<g fill="#000" shape-rendering="crispEdges"><rect x="16" y="326" width="3" height="16"/><rect x="19" y="342" width="3" height="10"/><rect x="25" y="338" width="3" height="11"/><rect x="35" y="326" width="3" height="2"/><rect x="47" y="306" width="3" height="2"/><rect x="53" y="302" width="3" height="3"/><rect x="56" y="304" width="3" height="4"/><rect x="59" y="307" width="3" height="5"/><rect x="62" y="311" width="3" height="12"/><rect x="65" y="322" width="3" height="14"/><rect x="71" y="317" width="3" height="2"/><rect x="87" y="296" width="3" height="2"/><rect x="90" y="297" width="3" height="13"/><rect x="105" y="292" width="3" height="5"/><rect x="130" y="270" width="3" height="4"/><rect x="136" y="264" width="3" height="7"/><rect x="151" y="248" width="3" height="7"/><rect x="170" y="237" width="3" height="4"/><rect x="176" y="234" width="3" height="4"/><rect x="185" y="228" width="3" height="2"/><rect x="188" y="229" width="3" height="6"/><rect x="194" y="225" width="3" height="4"/><rect x="203" y="225" width="3" height="5"/><rect x="210" y="225" width="3" height="13"/><rect x="213" y="237" width="3" height="5"/><rect x="219" y="227" width="3" height="1"/><rect x="222" y="227" width="3" height="4"/><rect x="225" y="231" width="3" height="9"/><rect x="228" y="240" width="3" height="1"/><rect x="246" y="219" width="3" height="2"/><rect x="250" y="220" width="3" height="1"/><rect x="253" y="220" width="3" height="4"/><rect x="268" y="203" width="3" height="3"/><rect x="283" y="196" width="3" height="2"/><rect x="302" y="174" width="3" height="7"/><rect x="305" y="180" width="3" height="6"/><rect x="314" y="180" width="3" height="1"/><rect x="326" y="167" width="3" height="14"/><rect x="332" y="175" width="3" height="20"/><rect x="348" y="165" width="3" height="14"/><rect x="357" y="164" width="3" height="4"/><rect x="372" y="149" width="3" height="2"/><rect x="375" y="149" width="3" height="17"/><rect x="379" y="164" width="3" height="26"/><rect x="397" y="135" width="3" height="8"/><rect x="400" y="141" width="3" height="7"/><rect x="409" y="122" width="3" height="4"/><rect x="434" y="90" width="3" height="9"/><rect x="440" y="86" width="3" height="3"/><rect x="446" y="80" width="3" height="11"/><rect x="449" y="90" width="3" height="7"/><rect x="455" y="89" width="3" height="18"/><rect x="461" y="105" width="3" height="17"/><rect x="468" y="107" width="3" height="8"/><rect x="471" y="114" width="3" height="18"/><rect x="480" y="108" width="3" height="12"/><rect x="486" y="108" width="3" height="6"/><rect x="504" y="88" width="3" height="3"/><rect x="508" y="90" width="3" height="10"/><rect x="511" y="99" width="3" height="5"/><rect x="529" y="63" width="3" height="9"/><rect x="547" y="47" width="3" height="3"/><rect x="554" y="39" width="3" height="5"/><rect x="560" y="41" width="3" height="1"/><rect x="563" y="41" width="3" height="12"/><rect x="566" y="52" width="3" height="2"/></g>
<g fill="#f8f7c9" stroke="#000" stroke-width="1" shape-rendering="crispEdges"><rect x="22.5" y="339.5" width="2" height="12"/><rect x="28.5" y="333.5" width="2" height="15"/><rect x="31.5" y="327.5" width="2" height="6"/><rect x="38.5" y="316.5" width="2" height="10"/><rect x="41.5" y="312.5" width="2" height="4"/><rect x="44.5" y="306.5" width="2" height="6"/><rect x="50.5" y="302.5" width="2" height="4"/><rect x="68.5" y="317.5" width="2" height="18"/><rect x="74.5" y="316.5" width="2" height="2"/><rect x="78.5" y="308.5" width="2" height="8"/><rect x="81.5" y="301.5" width="2" height="7"/><rect x="84.5" y="296.5" width="2" height="5"/><rect x="93.5" y="302.5" width="2" height="7"/><rect x="96.5" y="300.5" width="2" height="2"/><rect x="99.5" y="296.5" width="2" height="4"/><rect x="102.5" y="292.5" width="2" height="4"/><rect x="108.5" y="295.5" width="2" height="1"/><rect x="111.5" y="294.5" width="2" height="1"/><rect x="114.5" y="285.5" width="2" height="9"/><rect x="117.5" y="283.5" width="2" height="2"/><rect x="121.5" y="277.5" width="2" height="6"/><rect x="124.5" y="274.5" width="2" height="3"/><rect x="127.5" y="270.5" width="2" height="4"/><rect x="133.5" y="264.5" width="2" height="8"/><rect x="139.5" y="265.5" width="2" height="5"/><rect x="142.5" y="257.5" width="2" height="7"/><rect x="145.5" y="252.5" width="2" height="5"/><rect x="148.5" y="248.5" width="2" height="4"/><rect x="154.5" y="247.5" width="2" height="7"/><rect x="157.5" y="246.5" width="2" height="1"/><rect x="160.5" y="245.5" width="2" height="1"/><rect x="164.5" y="241.5" width="2" height="4"/><rect x="167.5" y="238.5" width="2" height="3"/><rect x="173.5" y="234.5" width="2" height="6"/><rect x="179.5" y="232.5" width="2" height="5"/><rect x="182.5" y="228.5" width="2" height="4"/><rect x="191.5" y="225.5" width="2" height="9"/><rect x="197.5" y="227.5" width="2" height="1"/><rect x="200.5" y="225.5" width="2" height="1"/><rect x="207.5" y="225.5" width="2" height="3"/><rect x="216.5" y="227.5" width="2" height="14"/><rect x="231.5" y="229.5" width="2" height="11"/><rect x="234.5" y="228.5" width="2" height="1"/><rect x="237.5" y="226.5" width="2" height="2"/><rect x="240.5" y="226.5" width="2" height="1"/><rect x="243.5" y="219.5" width="2" height="6"/><rect x="256.5" y="217.5" width="2" height="6"/><rect x="259.5" y="214.5" width="2" height="3"/><rect x="262.5" y="211.5" width="2" height="2"/><rect x="265.5" y="205.5" width="2" height="5"/><rect x="271.5" y="203.5" width="2" height="2"/><rect x="274.5" y="201.5" width="2" height="2"/><rect x="277.5" y="200.5" width="2" height="1"/><rect x="280.5" y="197.5" width="2" height="3"/><rect x="286.5" y="193.5" width="2" height="3"/><rect x="289.5" y="189.5" width="2" height="4"/><rect x="293.5" y="184.5" width="2" height="5"/><rect x="296.5" y="183.5" width="2" height="2"/><rect x="299.5" y="173.5" width="2" height="9"/><rect x="308.5" y="184.5" width="2" height="1"/><rect x="311.5" y="181.5" width="2" height="4"/><rect x="317.5" y="174.5" width="2" height="7"/><rect x="320.5" y="168.5" width="2" height="5"/><rect x="323.5" y="168.5" width="2" height="1"/><rect x="329.5" y="177.5" width="2" height="3"/><rect x="336.5" y="181.5" width="2" height="15"/><rect x="339.5" y="176.5" width="2" height="5"/><rect x="342.5" y="172.5" width="2" height="3"/><rect x="345.5" y="166.5" width="2" height="6"/><rect x="351.5" y="166.5" width="2" height="12"/><rect x="354.5" y="164.5" width="2" height="1"/><rect x="360.5" y="164.5" width="2" height="4"/><rect x="363.5" y="160.5" width="2" height="3"/><rect x="366.5" y="154.5" width="2" height="5"/><rect x="369.5" y="149.5" width="2" height="5"/><rect x="382.5" y="168.5" width="2" height="27"/><rect x="385.5" y="160.5" width="2" height="10"/><rect x="388.5" y="157.5" width="2" height="3"/><rect x="391.5" y="147.5" width="2" height="9"/><rect x="394.5" y="135.5" width="2" height="11"/><rect x="403.5" y="129.5" width="2" height="17"/><rect x="406.5" y="123.5" width="2" height="5"/><rect x="412.5" y="120.5" width="2" height="4"/><rect x="415.5" y="113.5" width="2" height="6"/><rect x="418.5" y="104.5" width="2" height="8"/><rect x="422.5" y="103.5" width="2" height="1"/><rect x="425.5" y="99.5" width="2" height="3"/><rect x="428.5" y="95.5" width="2" height="4"/><rect x="431.5" y="90.5" width="2" height="4"/><rect x="437.5" y="87.5" width="2" height="11"/><rect x="443.5" y="81.5" width="2" height="6"/><rect x="452.5" y="90.5" width="2" height="6"/><rect x="458.5" y="106.5" width="2" height="1"/><rect x="465.5" y="106.5" width="2" height="16"/><rect x="474.5" y="117.5" width="2" height="13"/><rect x="477.5" y="108.5" width="2" height="8"/><rect x="483.5" y="108.5" width="2" height="10"/><rect x="489.5" y="107.5" width="2" height="6"/><rect x="492.5" y="104.5" width="2" height="3"/><rect x="495.5" y="104.5" width="2" height="1"/><rect x="498.5" y="93.5" width="2" height="10"/><rect x="501.5" y="87.5" width="2" height="6"/><rect x="514.5" y="88.5" width="2" height="15"/><rect x="517.5" y="80.5" width="2" height="8"/><rect x="520.5" y="78.5" width="2" height="3"/><rect x="523.5" y="69.5" width="2" height="8"/><rect x="526.5" y="63.5" width="2" height="6"/><rect x="532.5" y="63.5" width="2" height="8"/><rect x="535.5" y="57.5" width="2" height="5"/><rect x="538.5" y="55.5" width="2" height="1"/><rect x="541.5" y="51.5" width="2" height="3"/><rect x="544.5" y="47.5" width="2" height="4"/><rect x="551.5" y="39.5" width="2" height="9"/><rect x="557.5" y="39.5" width="2" height="4"/><rect x="569.5" y="43.5" width="2" height="8"/></g>
<g stroke="#383894" stroke-width="1.3" fill="none">
<line x1="54.2" y1="293.3" x2="85.6" y2="325"/>
<line x1="459.3" y1="95.5" x2="512.6" y2="112"/>
<line x1="469.4" y1="140.3" x2="580" y2="56"/>
</g>
<line x1="186" y1="223" x2="266" y2="223" stroke="#1a1aa8" stroke-width="2.2"/>
</g>
<ellipse cx="585.9" cy="160.5" rx="24.8" ry="8.2" fill="none" stroke="#3c3c9c" stroke-width="1.5"/>
<g shape-rendering="crispEdges" fill="#000"><rect x="19" y="32" width="3" height="6"/><rect x="20" y="31" width="1" height="8"/><rect x="22" y="33" width="3" height="5"/><rect x="23" y="32" width="1" height="7"/><rect x="25" y="32" width="3" height="6"/><rect x="26" y="31" width="1" height="8"/><rect x="20" y="33" width="1" height="4" fill="#fff"/><rect x="26" y="33" width="1" height="4" fill="#fff"/></g>
<text x="31.80" y="39" font-size="9.7" textLength="132.86" lengthAdjust="spacing" font-family='"DejaVu Sans",sans-serif' fill="#000" stroke="#000" stroke-width="0.15">$SPX (Monthly) 5911.69</text>
<rect x="19" y="45" width="9" height="2" fill="#1e1e5a"/>
<text x="29.92" y="50" font-size="8.8" textLength="74.08" lengthAdjust="spacing" font-family='"DejaVu Sans",sans-serif' fill="#141464" stroke="#141464" stroke-width="0.15">EMA(50) 4756.37</text>
<rect x="19" y="56" width="9" height="2" fill="#a0302a"/>
<text x="29.92" y="61" font-size="8.8" textLength="79.20" lengthAdjust="spacing" font-family='"DejaVu Sans",sans-serif' fill="#8c1c14" stroke="#8c1c14" stroke-width="0.15">EMA(200) 3113.88</text>
<g clip-path="url(#cd)">
<g fill="#707070" shape-rendering="crispEdges"><rect x="78" y="462" width="4" height="1"/><rect x="188" y="462" width="4" height="1"/><rect x="191" y="462" width="4" height="1"/><rect x="194" y="462" width="4" height="1"/><rect x="246" y="462" width="4" height="1"/><rect x="250" y="462" width="4" height="1"/><rect x="253" y="462" width="4" height="1"/><rect x="256" y="462" width="4" height="1"/><rect x="314" y="462" width="4" height="1"/><rect x="326" y="462" width="4" height="1"/><rect x="354" y="462" width="4" height="1"/><rect x="357" y="462" width="4" height="1"/><rect x="360" y="462" width="4" height="1"/><rect x="391" y="462" width="4" height="1"/><rect x="498" y="462" width="4" height="1"/></g>
<g fill="#808080" stroke="#555" stroke-width="1" shape-rendering="crispEdges"><rect x="16.5" y="456.5" width="3" height="6"/><rect x="19.5" y="458.5" width="3" height="4"/><rect x="22.5" y="458.5" width="3" height="4"/><rect x="25.5" y="459.5" width="3" height="3"/><rect x="28.5" y="459.5" width="3" height="3"/><rect x="31.5" y="458.5" width="3" height="4"/><rect x="35.5" y="458.5" width="3" height="4"/><rect x="38.5" y="457.5" width="3" height="5"/><rect x="41.5" y="457.5" width="3" height="5"/><rect x="44.5" y="456.5" width="3" height="6"/><rect x="47.5" y="456.5" width="3" height="6"/><rect x="50.5" y="456.5" width="3" height="6"/><rect x="53.5" y="457.5" width="3" height="5"/><rect x="56.5" y="458.5" width="3" height="4"/><rect x="59.5" y="459.5" width="3" height="3"/><rect x="62.5" y="460.5" width="3" height="2"/><rect x="81.5" y="461.5" width="3" height="1"/><rect x="84.5" y="460.5" width="3" height="2"/><rect x="87.5" y="460.5" width="3" height="2"/><rect x="90.5" y="461.5" width="3" height="1"/><rect x="93.5" y="461.5" width="3" height="1"/><rect x="96.5" y="461.5" width="3" height="1"/><rect x="99.5" y="461.5" width="3" height="1"/><rect x="102.5" y="461.5" width="3" height="1"/><rect x="105.5" y="461.5" width="3" height="1"/><rect x="108.5" y="461.5" width="3" height="1"/><rect x="111.5" y="461.5" width="3" height="1"/><rect x="114.5" y="461.5" width="3" height="1"/><rect x="117.5" y="460.5" width="3" height="2"/><rect x="121.5" y="460.5" width="3" height="2"/><rect x="124.5" y="459.5" width="3" height="3"/><rect x="127.5" y="459.5" width="3" height="3"/><rect x="130.5" y="459.5" width="3" height="3"/><rect x="133.5" y="459.5" width="3" height="3"/><rect x="136.5" y="459.5" width="3" height="3"/><rect x="139.5" y="459.5" width="3" height="3"/><rect x="142.5" y="459.5" width="3" height="3"/><rect x="145.5" y="458.5" width="3" height="4"/><rect x="148.5" y="458.5" width="3" height="4"/><rect x="151.5" y="459.5" width="3" height="3"/><rect x="154.5" y="459.5" width="3" height="3"/><rect x="157.5" y="459.5" width="3" height="3"/><rect x="160.5" y="459.5" width="3" height="3"/><rect x="164.5" y="459.5" width="3" height="3"/><rect x="167.5" y="459.5" width="3" height="3"/><rect x="170.5" y="460.5" width="3" height="2"/><rect x="173.5" y="460.5" width="3" height="2"/><rect x="176.5" y="461.5" width="3" height="1"/><rect x="179.5" y="461.5" width="3" height="1"/><rect x="182.5" y="461.5" width="3" height="1"/><rect x="185.5" y="461.5" width="3" height="1"/><rect x="259.5" y="461.5" width="3" height="1"/><rect x="262.5" y="461.5" width="3" height="1"/><rect x="265.5" y="459.5" width="3" height="3"/><rect x="268.5" y="459.5" width="3" height="3"/><rect x="271.5" y="459.5" width="3" height="3"/><rect x="274.5" y="459.5" width="3" height="3"/><rect x="277.5" y="459.5" width="3" height="3"/><rect x="280.5" y="459.5" width="3" height="3"/><rect x="283.5" y="459.5" width="3" height="3"/><rect x="286.5" y="459.5" width="3" height="3"/><rect x="289.5" y="459.5" width="3" height="3"/><rect x="293.5" y="458.5" width="3" height="4"/><rect x="296.5" y="458.5" width="3" height="4"/><rect x="299.5" y="456.5" width="3" height="6"/><rect x="302.5" y="457.5" width="3" height="5"/><rect x="305.5" y="459.5" width="3" height="3"/><rect x="308.5" y="460.5" width="3" height="2"/><rect x="311.5" y="461.5" width="3" height="1"/><rect x="317.5" y="461.5" width="3" height="1"/><rect x="320.5" y="460.5" width="3" height="2"/><rect x="323.5" y="460.5" width="3" height="2"/><rect x="363.5" y="461.5" width="3" height="1"/><rect x="366.5" y="460.5" width="3" height="2"/><rect x="369.5" y="458.5" width="3" height="4"/><rect x="372.5" y="458.5" width="3" height="4"/><rect x="375.5" y="461.5" width="3" height="1"/><rect x="394.5" y="458.5" width="3" height="4"/><rect x="397.5" y="457.5" width="3" height="5"/><rect x="400.5" y="458.5" width="3" height="4"/><rect x="403.5" y="456.5" width="3" height="6"/><rect x="406.5" y="453.5" width="3" height="9"/><rect x="409.5" y="453.5" width="3" height="9"/><rect x="412.5" y="452.5" width="3" height="10"/><rect x="415.5" y="451.5" width="3" height="11"/><rect x="418.5" y="448.5" width="3" height="14"/><rect x="422.5" y="448.5" width="3" height="14"/><rect x="425.5" y="448.5" width="3" height="14"/><rect x="428.5" y="448.5" width="3" height="14"/><rect x="431.5" y="447.5" width="3" height="15"/><rect x="434.5" y="451.5" width="3" height="11"/><rect x="437.5" y="451.5" width="3" height="11"/><rect x="440.5" y="452.5" width="3" height="10"/><rect x="443.5" y="452.5" width="3" height="10"/><rect x="446.5" y="456.5" width="3" height="6"/><rect x="449.5" y="461.5" width="3" height="1"/><rect x="501.5" y="458.5" width="3" height="4"/><rect x="504.5" y="457.5" width="3" height="5"/><rect x="508.5" y="459.5" width="3" height="3"/><rect x="511.5" y="461.5" width="3" height="1"/><rect x="514.5" y="459.5" width="3" height="3"/><rect x="517.5" y="456.5" width="3" height="6"/><rect x="520.5" y="454.5" width="3" height="8"/><rect x="523.5" y="450.5" width="3" height="12"/><rect x="526.5" y="447.5" width="3" height="15"/><rect x="529.5" y="448.5" width="3" height="14"/><rect x="532.5" y="448.5" width="3" height="14"/><rect x="535.5" y="447.5" width="3" height="15"/><rect x="538.5" y="446.5" width="3" height="16"/><rect x="541.5" y="446.5" width="3" height="16"/><rect x="544.5" y="446.5" width="3" height="16"/><rect x="547.5" y="448.5" width="3" height="14"/><rect x="551.5" y="446.5" width="3" height="16"/><rect x="554.5" y="449.5" width="3" height="13"/><rect x="557.5" y="450.5" width="3" height="12"/><rect x="560.5" y="453.5" width="3" height="9"/><rect x="563.5" y="459.5" width="3" height="3"/></g>
<g fill="#a0a0dc" stroke="#6a6aa0" stroke-width="1" shape-rendering="crispEdges"><rect x="65.5" y="462.5" width="3" height="1"/><rect x="68.5" y="462.5" width="3" height="1"/><rect x="71.5" y="462.5" width="3" height="1"/><rect x="74.5" y="462.5" width="3" height="1"/><rect x="197.5" y="462.5" width="3" height="1"/><rect x="200.5" y="462.5" width="3" height="1"/><rect x="203.5" y="462.5" width="3" height="1"/><rect x="207.5" y="462.5" width="3" height="2"/><rect x="210.5" y="462.5" width="3" height="3"/><rect x="213.5" y="462.5" width="3" height="5"/><rect x="216.5" y="462.5" width="3" height="4"/><rect x="219.5" y="462.5" width="3" height="4"/><rect x="222.5" y="462.5" width="3" height="4"/><rect x="225.5" y="462.5" width="3" height="5"/><rect x="228.5" y="462.5" width="3" height="5"/><rect x="231.5" y="462.5" width="3" height="4"/><rect x="234.5" y="462.5" width="3" height="4"/><rect x="237.5" y="462.5" width="3" height="3"/><rect x="240.5" y="462.5" width="3" height="2"/><rect x="243.5" y="462.5" width="3" height="1"/><rect x="329.5" y="462.5" width="3" height="1"/><rect x="332.5" y="462.5" width="3" height="5"/><rect x="336.5" y="462.5" width="3" height="5"/><rect x="339.5" y="462.5" width="3" height="4"/><rect x="342.5" y="462.5" width="3" height="3"/><rect x="345.5" y="462.5" width="3" height="1"/><rect x="348.5" y="462.5" width="3" height="2"/><rect x="351.5" y="462.5" width="3" height="1"/><rect x="379.5" y="462.5" width="3" height="5"/><rect x="382.5" y="462.5" width="3" height="6"/><rect x="385.5" y="462.5" width="3" height="4"/><rect x="388.5" y="462.5" width="3" height="3"/><rect x="452.5" y="462.5" width="3" height="1"/><rect x="455.5" y="462.5" width="3" height="7"/><rect x="458.5" y="462.5" width="3" height="11"/><rect x="461.5" y="462.5" width="3" height="17"/><rect x="465.5" y="462.5" width="3" height="17"/><rect x="468.5" y="462.5" width="3" height="18"/><rect x="471.5" y="462.5" width="3" height="23"/><rect x="474.5" y="462.5" width="3" height="21"/><rect x="477.5" y="462.5" width="3" height="18"/><rect x="480.5" y="462.5" width="3" height="17"/><rect x="483.5" y="462.5" width="3" height="14"/><rect x="486.5" y="462.5" width="3" height="12"/><rect x="489.5" y="462.5" width="3" height="9"/><rect x="492.5" y="462.5" width="3" height="6"/><rect x="495.5" y="462.5" width="3" height="4"/><rect x="566.5" y="462.5" width="3" height="3"/><rect x="569.5" y="462.5" width="3" height="3"/></g>
<polyline points="17.5,470.92 20.5,469.92 23.5,469.01 26.5,468.32 29.5,467.54 32.5,466.63 36.5,465.68 39.5,464.53 42.5,463.25 45.5,461.82 48.5,460.40 51.5,458.95 54.5,457.61 57.5,456.50 60.5,455.68 63.5,455.29 66.5,455.45 69.5,455.63 72.5,455.85 75.5,456.07 79.5,456.14 82.5,455.99 85.5,455.60 88.5,455.12 91.5,454.88 94.5,454.67 97.5,454.46 100.5,454.20 103.5,453.86 106.5,453.58 109.5,453.37 112.5,453.19 115.5,452.88 118.5,452.48 122.5,451.91 125.5,451.22 128.5,450.42 131.5,449.69 134.5,448.86 137.5,448.18 140.5,447.53 143.5,446.77 146.5,445.87 149.5,444.87 152.5,444.06 155.5,443.26 158.5,442.51 161.5,441.84 165.5,441.21 168.5,440.57 171.5,440.10 174.5,439.61 177.5,439.27 180.5,438.97 183.5,438.63 186.5,438.36 189.5,438.38 192.5,438.33 195.5,438.41 198.5,438.56 201.5,438.74 204.5,439.11 208.5,439.53 211.5,440.35 214.5,441.58 217.5,442.62 220.5,443.53 223.5,444.45 226.5,445.65 229.5,447.02 232.5,448.12 235.5,449.00 238.5,449.66 241.5,450.15 244.5,450.35 247.5,450.38 251.5,450.35 254.5,450.41 257.5,450.37 260.5,450.18 263.5,449.82 266.5,449.19 269.5,448.43 272.5,447.63 275.5,446.78 278.5,445.97 281.5,445.12 284.5,444.34 287.5,443.55 290.5,442.68 294.5,441.67 297.5,440.59 300.5,439.17 303.5,437.96 306.5,437.20 309.5,436.80 312.5,436.55 315.5,436.43 318.5,436.20 321.5,435.73 324.5,435.17 327.5,435.18 330.5,435.50 333.5,436.73 337.5,437.99 340.5,439.05 343.5,439.83 346.5,440.16 349.5,440.76 352.5,441.04 355.5,441.04 358.5,441.06 361.5,441.01 364.5,440.80 367.5,440.27 370.5,439.37 373.5,438.36 376.5,438.11 380.5,439.43 383.5,440.81 386.5,441.86 389.5,442.53 392.5,442.52 395.5,441.50 398.5,440.33 401.5,439.42 404.5,437.83 407.5,435.58 410.5,433.21 413.5,430.70 416.5,427.86 419.5,424.48 423.5,420.96 426.5,417.38 429.5,413.79 432.5,410.14 435.5,407.36 438.5,404.57 441.5,402.17 444.5,399.74 447.5,398.23 450.5,397.92 453.5,398.08 456.5,399.78 459.5,402.48 462.5,406.75 466.5,410.97 469.5,415.53 472.5,421.17 475.5,426.51 478.5,430.91 481.5,435.20 484.5,438.62 487.5,441.67 490.5,443.98 493.5,445.59 496.5,446.70 499.5,446.72 502.5,445.73 505.5,444.42 509.5,443.60 512.5,443.44 515.5,442.73 518.5,441.21 521.5,439.10 524.5,436.11 527.5,432.35 530.5,428.98 533.5,425.43 536.5,421.56 539.5,417.61 542.5,413.58 545.5,409.51 548.5,405.91 552.5,402.03 555.5,398.72 558.5,395.67 561.5,393.31 564.5,392.61 567.5,393.25 570.5,393.93" fill="none" stroke="#6040a0" stroke-width="1"/>
<polyline points="17.5,465.40 20.5,465.93 23.5,465.34 26.5,465.55 29.5,464.44 32.5,462.98 36.5,461.87 39.5,459.95 42.5,458.10 45.5,456.14 48.5,454.69 51.5,453.14 54.5,452.28 57.5,452.05 60.5,452.38 63.5,453.74 66.5,456.10 69.5,456.37 72.5,456.73 75.5,456.94 79.5,456.42 82.5,455.36 85.5,454.03 88.5,453.23 91.5,453.90 94.5,453.82 97.5,453.62 100.5,453.19 103.5,452.50 106.5,452.46 109.5,452.49 112.5,452.49 115.5,451.63 118.5,450.86 122.5,449.65 125.5,448.46 128.5,447.23 131.5,446.78 134.5,445.53 137.5,445.46 140.5,444.94 143.5,443.71 146.5,442.30 149.5,440.84 152.5,440.84 155.5,440.05 158.5,439.50 161.5,439.18 165.5,438.66 168.5,438.03 171.5,438.21 174.5,437.64 177.5,437.90 180.5,437.77 183.5,437.27 186.5,437.29 189.5,438.45 192.5,438.16 195.5,438.70 198.5,439.16 201.5,439.48 204.5,440.60 208.5,441.18 211.5,443.65 214.5,446.52 217.5,446.78 220.5,447.15 223.5,448.12 226.5,450.44 229.5,452.51 232.5,452.51 235.5,452.55 238.5,452.27 241.5,452.14 244.5,451.14 247.5,450.52 251.5,450.21 254.5,450.68 257.5,450.19 260.5,449.41 263.5,448.41 266.5,446.63 269.5,445.43 272.5,444.39 275.5,443.41 278.5,442.71 281.5,441.74 284.5,441.20 287.5,440.38 290.5,439.23 294.5,437.61 297.5,436.27 300.5,433.48 303.5,433.12 306.5,434.16 309.5,435.21 312.5,435.56 315.5,435.96 318.5,435.25 321.5,433.85 324.5,432.91 327.5,435.26 330.5,436.75 333.5,441.64 337.5,443.04 340.5,443.27 343.5,442.99 346.5,441.48 349.5,443.17 352.5,442.14 355.5,441.04 358.5,441.15 361.5,440.80 364.5,439.95 367.5,438.14 370.5,435.78 373.5,434.31 376.5,437.15 380.5,444.68 383.5,446.34 386.5,446.04 389.5,445.22 392.5,442.47 395.5,437.43 398.5,435.63 401.5,435.79 404.5,431.45 407.5,426.58 410.5,423.74 413.5,420.64 416.5,416.50 419.5,410.95 423.5,406.88 426.5,403.06 429.5,399.42 432.5,395.56 435.5,396.21 438.5,393.44 441.5,392.58 444.5,390.00 447.5,392.20 450.5,396.65 453.5,398.76 456.5,406.55 459.5,413.28 462.5,423.82 466.5,427.84 469.5,433.77 472.5,443.74 475.5,447.89 478.5,448.48 481.5,452.37 484.5,452.32 487.5,453.83 490.5,453.23 493.5,452.05 496.5,451.11 499.5,446.83 502.5,441.77 505.5,439.15 509.5,440.34 512.5,442.81 515.5,439.89 518.5,435.12 521.5,430.67 524.5,424.15 527.5,417.33 530.5,415.47 533.5,411.26 536.5,406.07 539.5,401.81 542.5,397.46 545.5,393.24 548.5,391.49 552.5,386.50 555.5,385.50 558.5,383.44 561.5,383.90 564.5,389.80 567.5,395.82 570.5,396.66" fill="none" stroke="#000" stroke-width="1.8"/>
</g>
<rect x="19" y="381" width="9" height="3" fill="#000"/>
<text x="31.46" y="386" font-size="9.7" textLength="138.54" lengthAdjust="spacing" font-family='"DejaVu Sans",sans-serif' fill="#000" stroke="#000" stroke-width="0.15">MACD(12,26,9) 387.280,</text>
<text x="174.42" y="386" font-size="9.7" textLength="48.62" lengthAdjust="spacing" font-family='"DejaVu Sans",sans-serif' fill="#3c2878" stroke="#3c2878" stroke-width="0.15">403.325,</text>
<text x="228.46" y="386" font-size="9.7" textLength="42.54" lengthAdjust="spacing" font-family='"DejaVu Sans",sans-serif' fill="#7c7c70" stroke="#7c7c70" stroke-width="0.15">-16.046</text>
<polygon points="78.9,456.3 86.4,463.2 82.9,463.2 82.9,469 74.9,469 74.9,463.2 71.4,463.2" fill="#0000ee"/>
<rect x="56" y="470" width="48" height="19" fill="#b4b4a0" shape-rendering="crispEdges"/><rect x="54.5" y="468.5" width="47" height="18" fill="#fff" stroke="#9a9a94" shape-rendering="crispEdges"/><text x="57.30" y="481" font-size="10.6" textLength="34.30" lengthAdjust="spacing" font-weight="bold" fill="#000080" stroke="#000080" stroke-width="0.2">TLBBS</text>
<polygon points="204.3,439 211.8,431 208.3,431 208.3,425 200.3,425 200.3,431 196.8,431" fill="#0000ee"/>
<rect x="179" y="409" width="47" height="19" fill="#b4b4a0" shape-rendering="crispEdges"/><rect x="177.5" y="407.5" width="46" height="18" fill="#fff" stroke="#9a9a94" shape-rendering="crispEdges"/><text x="180.50" y="420" font-size="10.6" textLength="34.10" lengthAdjust="spacing" font-weight="bold" fill="#000080" stroke="#000080" stroke-width="0.2">TLBSS</text>
<polygon points="251,452 258.5,459.5 255,459.5 255,463 247,463 247,459.5 243.5,459.5" fill="#0000ee"/>
<rect x="225" y="464" width="49" height="19" fill="#b4b4a0" shape-rendering="crispEdges"/><rect x="223.5" y="462.5" width="48" height="18" fill="#fff" stroke="#9a9a94" shape-rendering="crispEdges"/><text x="226.50" y="475" font-size="10.6" textLength="34.10" lengthAdjust="spacing" font-weight="bold" fill="#000080" stroke="#000080" stroke-width="0.2">TLBBS</text>
<polygon points="456,396 463.5,388 460,388 460,384 452,384 452,388 448.5,388" fill="#0000ee"/>
<rect x="431" y="369" width="46" height="18" fill="#b4b4a0" shape-rendering="crispEdges"/><rect x="429.5" y="367.5" width="45" height="17" fill="#fff" stroke="#9a9a94" shape-rendering="crispEdges"/><text x="432.50" y="379" font-size="10.6" textLength="34.10" lengthAdjust="spacing" font-weight="bold" fill="#000080" stroke="#000080" stroke-width="0.2">TLBSS</text>
<polygon points="499,453.3 506.5,460.6 503,460.6 503,466 495,466 495,460.6 491.5,460.6" fill="#0000ee"/>
<rect x="474" y="467" width="46" height="20" fill="#b4b4a0" shape-rendering="crispEdges"/><rect x="472.5" y="465.5" width="45" height="19" fill="#fff" stroke="#9a9a94" shape-rendering="crispEdges"/><text x="475.50" y="479" font-size="10.6" textLength="34.10" lengthAdjust="spacing" font-weight="bold" fill="#000080" stroke="#000080" stroke-width="0.2">TLBBS</text>
</svg></body></html>
